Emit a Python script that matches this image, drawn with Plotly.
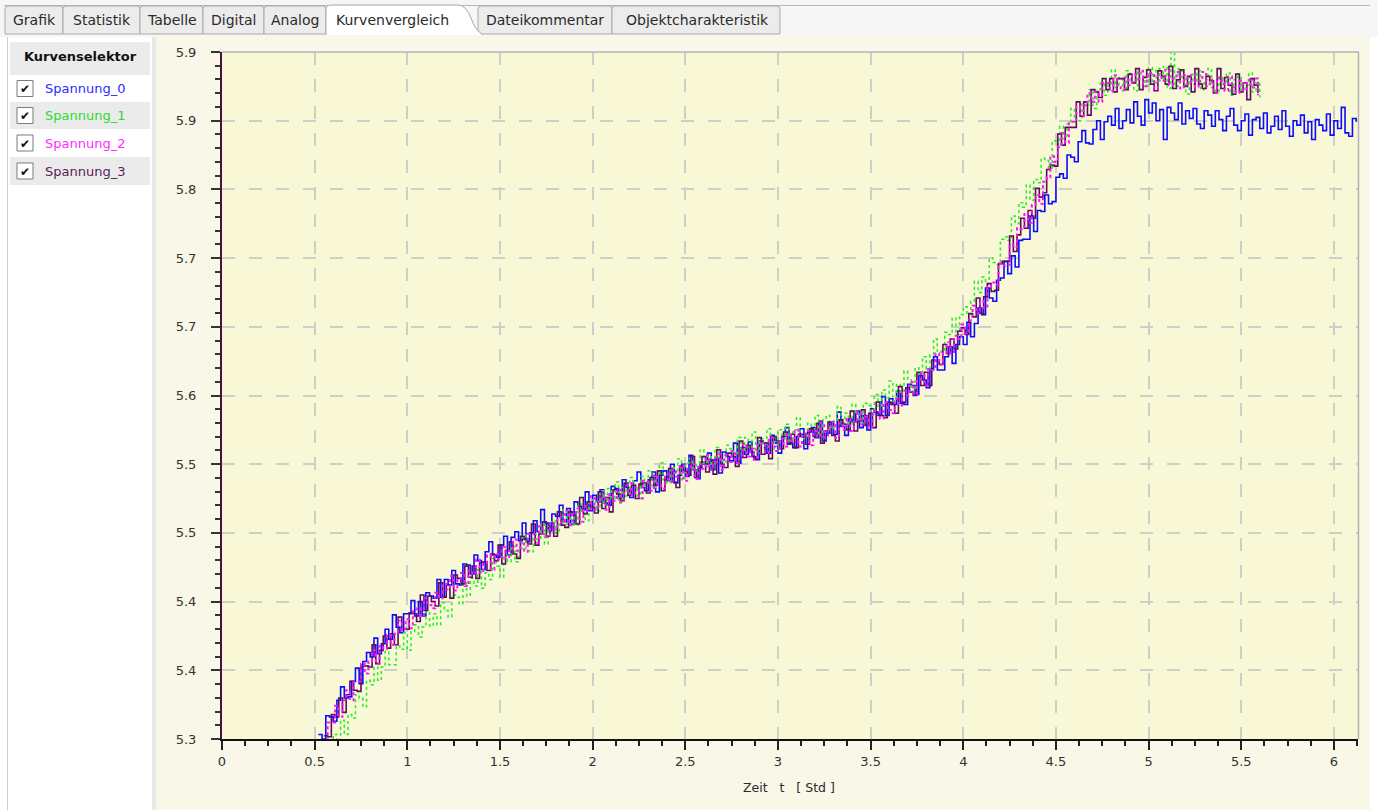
import plotly.graph_objects as go

# ---------------------------------------------------------------------------
# Measured voltages (V), one sample every T_STEP hours starting at *_T0
# ---------------------------------------------------------------------------
T_STEP = 0.02

SPANNUNG_0_T0 = 0.52
SPANNUNG_0 = [
    5.304, 5.300, 5.321, 5.320, 5.316, 5.335, 5.347, 5.337, 5.338, 5.352,
    5.364, 5.350, 5.370, 5.378, 5.374, 5.391, 5.377, 5.386, 5.399, 5.390,
    5.412, 5.401, 5.396, 5.413, 5.413, 5.425, 5.411, 5.424, 5.411, 5.432,
    5.429, 5.427, 5.444, 5.428, 5.444, 5.439, 5.452, 5.440, 5.439, 5.458,
    5.457, 5.449, 5.466, 5.461, 5.453, 5.469, 5.478, 5.466, 5.464, 5.475,
    5.483, 5.466, 5.482, 5.487, 5.479, 5.495, 5.478, 5.486, 5.497, 5.487,
    5.507, 5.495, 5.488, 5.503, 5.501, 5.511, 5.496, 5.508, 5.494, 5.514,
    5.510, 5.507, 5.523, 5.506, 5.520, 5.514, 5.525, 5.513, 5.511, 5.528,
    5.526, 5.517, 5.534, 5.527, 5.518, 5.533, 5.541, 5.527, 5.524, 5.534,
    5.541, 5.523, 5.538, 5.542, 5.533, 5.548, 5.531, 5.538, 5.548, 5.537,
    5.556, 5.543, 5.535, 5.550, 5.548, 5.558, 5.543, 5.554, 5.540, 5.559,
    5.555, 5.551, 5.567, 5.549, 5.563, 5.557, 5.568, 5.555, 5.552, 5.569,
    5.567, 5.558, 5.574, 5.567, 5.558, 5.573, 5.581, 5.567, 5.563, 5.573,
    5.580, 5.562, 5.577, 5.581, 5.572, 5.587, 5.569, 5.576, 5.586, 5.575,
    5.595, 5.582, 5.574, 5.589, 5.586, 5.596, 5.581, 5.592, 5.579, 5.598,
    5.595, 5.592, 5.609, 5.592, 5.607, 5.602, 5.614, 5.603, 5.602, 5.620,
    5.619, 5.611, 5.628, 5.624, 5.617, 5.634, 5.645, 5.633, 5.633, 5.645,
    5.654, 5.639, 5.656, 5.663, 5.656, 5.676, 5.663, 5.675, 5.689, 5.683,
    5.707, 5.698, 5.695, 5.714, 5.716, 5.731, 5.720, 5.736, 5.726, 5.750,
    5.751, 5.751, 5.772, 5.758, 5.777, 5.776, 5.791, 5.783, 5.785, 5.807,
    5.810, 5.806, 5.827, 5.825, 5.821, 5.839, 5.849, 5.838, 5.837, 5.850,
    5.858, 5.841, 5.857, 5.862, 5.854, 5.869, 5.851, 5.858, 5.868, 5.856,
    5.875, 5.862, 5.854, 5.877, 5.865, 5.874, 5.858, 5.868, 5.841, 5.870,
    5.865, 5.859, 5.874, 5.855, 5.867, 5.860, 5.869, 5.855, 5.851, 5.867,
    5.863, 5.853, 5.867, 5.859, 5.849, 5.862, 5.869, 5.854, 5.849, 5.858,
    5.864, 5.845, 5.859, 5.861, 5.851, 5.865, 5.847, 5.853, 5.862, 5.850,
    5.867, 5.853, 5.844, 5.858, 5.854, 5.863, 5.847, 5.857, 5.841, 5.859,
    5.854, 5.849, 5.864, 5.845, 5.858, 5.851, 5.870, 5.847, 5.844, 5.860,
    5.857,
]

SPANNUNG_1_T0 = 0.58
SPANNUNG_1 = [
    5.287, 5.304, 5.298, 5.317, 5.304, 5.322, 5.319, 5.340, 5.337, 5.329,
    5.353, 5.349, 5.365, 5.353, 5.365, 5.379, 5.367, 5.367, 5.384, 5.381,
    5.396, 5.380, 5.397, 5.403, 5.392, 5.401, 5.415, 5.402, 5.413, 5.403,
    5.423, 5.416, 5.410, 5.430, 5.428, 5.422, 5.441, 5.429, 5.445, 5.438,
    5.453, 5.436, 5.450, 5.444, 5.463, 5.456, 5.446, 5.466, 5.460, 5.474,
    5.460, 5.472, 5.484, 5.470, 5.469, 5.484, 5.480, 5.494, 5.476, 5.492,
    5.497, 5.486, 5.494, 5.507, 5.493, 5.503, 5.493, 5.512, 5.504, 5.497,
    5.516, 5.514, 5.506, 5.524, 5.511, 5.526, 5.517, 5.532, 5.513, 5.527,
    5.519, 5.536, 5.529, 5.517, 5.537, 5.529, 5.542, 5.527, 5.537, 5.549,
    5.534, 5.531, 5.545, 5.540, 5.553, 5.534, 5.549, 5.553, 5.542, 5.549,
    5.561, 5.546, 5.556, 5.545, 5.563, 5.554, 5.547, 5.565, 5.562, 5.555,
    5.572, 5.558, 5.572, 5.563, 5.577, 5.558, 5.571, 5.563, 5.580, 5.572,
    5.560, 5.579, 5.571, 5.584, 5.569, 5.579, 5.590, 5.575, 5.571, 5.585,
    5.580, 5.592, 5.573, 5.588, 5.592, 5.580, 5.588, 5.600, 5.585, 5.594,
    5.584, 5.602, 5.593, 5.585, 5.603, 5.601, 5.593, 5.611, 5.600, 5.615,
    5.608, 5.623, 5.605, 5.620, 5.613, 5.632, 5.625, 5.614, 5.635, 5.629,
    5.645, 5.634, 5.647, 5.661, 5.649, 5.650, 5.667, 5.665, 5.680, 5.665,
    5.683, 5.690, 5.683, 5.695, 5.713, 5.703, 5.717, 5.711, 5.734, 5.730,
    5.728, 5.751, 5.753, 5.750, 5.772, 5.765, 5.784, 5.780, 5.800, 5.786,
    5.805, 5.802, 5.824, 5.822, 5.815, 5.840, 5.837, 5.853, 5.842, 5.855,
    5.869, 5.857, 5.858, 5.875, 5.872, 5.886, 5.869, 5.886, 5.892, 5.881,
    5.890, 5.904, 5.888, 5.897, 5.885, 5.903, 5.893, 5.885, 5.902, 5.898,
    5.890, 5.906, 5.892, 5.905, 5.894, 5.907, 5.887, 5.920, 5.889, 5.905,
    5.896, 5.882, 5.900, 5.891, 5.903, 5.886, 5.895, 5.905, 5.888, 5.884,
    5.897, 5.891, 5.901, 5.881, 5.895, 5.898, 5.885, 5.890, 5.901, 5.884,
    5.892, 5.879,
]

SPANNUNG_2_T0 = 0.55
SPANNUNG_2 = [
    5.296, 5.315, 5.315, 5.330, 5.320, 5.335, 5.344, 5.335, 5.352, 5.352,
    5.368, 5.359, 5.370, 5.380, 5.368, 5.384, 5.381, 5.394, 5.385, 5.395,
    5.407, 5.398, 5.408, 5.400, 5.417, 5.418, 5.411, 5.427, 5.421, 5.418,
    5.432, 5.427, 5.440, 5.435, 5.447, 5.434, 5.445, 5.450, 5.438, 5.452,
    5.449, 5.462, 5.450, 5.458, 5.466, 5.453, 5.467, 5.462, 5.473, 5.463,
    5.470, 5.480, 5.470, 5.478, 5.469, 5.485, 5.485, 5.477, 5.492, 5.485,
    5.482, 5.495, 5.489, 5.500, 5.495, 5.506, 5.493, 5.503, 5.508, 5.496,
    5.510, 5.506, 5.519, 5.507, 5.514, 5.521, 5.507, 5.521, 5.515, 5.525,
    5.514, 5.522, 5.531, 5.520, 5.527, 5.517, 5.533, 5.532, 5.524, 5.538,
    5.530, 5.526, 5.539, 5.532, 5.543, 5.537, 5.547, 5.533, 5.544, 5.548,
    5.535, 5.548, 5.544, 5.556, 5.543, 5.550, 5.557, 5.543, 5.556, 5.550,
    5.560, 5.549, 5.556, 5.566, 5.555, 5.562, 5.552, 5.567, 5.566, 5.558,
    5.572, 5.564, 5.560, 5.571, 5.564, 5.575, 5.569, 5.579, 5.564, 5.574,
    5.578, 5.565, 5.578, 5.573, 5.585, 5.572, 5.579, 5.586, 5.572, 5.585,
    5.579, 5.589, 5.578, 5.586, 5.595, 5.584, 5.591, 5.581, 5.596, 5.596,
    5.589, 5.604, 5.597, 5.594, 5.607, 5.601, 5.614, 5.610, 5.622, 5.611,
    5.623, 5.630, 5.619, 5.634, 5.633, 5.648, 5.638, 5.648, 5.658, 5.648,
    5.664, 5.661, 5.674, 5.666, 5.678, 5.691, 5.684, 5.695, 5.689, 5.708,
    5.712, 5.710, 5.729, 5.727, 5.728, 5.746, 5.744, 5.761, 5.760, 5.775,
    5.766, 5.782, 5.791, 5.783, 5.803, 5.807, 5.826, 5.821, 5.834, 5.847,
    5.838, 5.857, 5.857, 5.871, 5.862, 5.872, 5.883, 5.875, 5.884, 5.875,
    5.892, 5.892, 5.885, 5.899, 5.890, 5.886, 5.897, 5.890, 5.900, 5.894,
    5.903, 5.889, 5.898, 5.901, 5.887, 5.899, 5.894, 5.904, 5.890, 5.896,
    5.902, 5.887, 5.899, 5.891, 5.900, 5.888, 5.894, 5.902, 5.889, 5.895,
    5.883, 5.897, 5.894, 5.885, 5.898, 5.888, 5.883, 5.894, 5.885, 5.895,
    5.888, 5.896, 5.881,
]

SPANNUNG_3_T0 = 0.55
SPANNUNG_3 = [
    5.303, 5.302, 5.322, 5.320, 5.337, 5.324, 5.340, 5.352, 5.344, 5.343,
    5.366, 5.366, 5.365, 5.385, 5.368, 5.380, 5.393, 5.382, 5.395, 5.385,
    5.410, 5.399, 5.399, 5.414, 5.413, 5.406, 5.430, 5.416, 5.429, 5.424,
    5.420, 5.441, 5.428, 5.439, 5.427, 5.448, 5.445, 5.440, 5.456, 5.446,
    5.456, 5.445, 5.459, 5.460, 5.452, 5.467, 5.461, 5.475, 5.458, 5.470,
    5.478, 5.467, 5.463, 5.483, 5.480, 5.476, 5.494, 5.475, 5.485, 5.496,
    5.483, 5.495, 5.483, 5.505, 5.493, 5.491, 5.505, 5.502, 5.494, 5.518,
    5.503, 5.514, 5.509, 5.504, 5.523, 5.508, 5.518, 5.505, 5.525, 5.521,
    5.515, 5.531, 5.520, 5.529, 5.517, 5.530, 5.531, 5.522, 5.536, 5.529,
    5.542, 5.524, 5.536, 5.544, 5.532, 5.527, 5.546, 5.542, 5.538, 5.555,
    5.536, 5.545, 5.555, 5.541, 5.552, 5.539, 5.561, 5.548, 5.545, 5.558,
    5.555, 5.546, 5.569, 5.554, 5.565, 5.559, 5.553, 5.572, 5.557, 5.567,
    5.553, 5.573, 5.569, 5.562, 5.577, 5.566, 5.575, 5.563, 5.575, 5.575,
    5.566, 5.580, 5.573, 5.585, 5.567, 5.578, 5.586, 5.574, 5.569, 5.588,
    5.584, 5.579, 5.596, 5.578, 5.587, 5.597, 5.583, 5.594, 5.581, 5.604,
    5.592, 5.590, 5.604, 5.602, 5.594, 5.618, 5.604, 5.617, 5.613, 5.610,
    5.631, 5.619, 5.631, 5.619, 5.642, 5.641, 5.638, 5.656, 5.648, 5.661,
    5.652, 5.668, 5.671, 5.665, 5.684, 5.681, 5.698, 5.684, 5.699, 5.711,
    5.704, 5.705, 5.729, 5.731, 5.731, 5.754, 5.740, 5.755, 5.770, 5.761,
    5.777, 5.770, 5.797, 5.789, 5.793, 5.814, 5.818, 5.817, 5.846, 5.836,
    5.852, 5.852, 5.852, 5.875, 5.862, 5.875, 5.863, 5.886, 5.884, 5.879,
    5.896, 5.886, 5.896, 5.884, 5.896, 5.896, 5.886, 5.900, 5.892, 5.905,
    5.886, 5.897, 5.904, 5.891, 5.885, 5.903, 5.898, 5.891, 5.907, 5.887,
    5.895, 5.904, 5.889, 5.898, 5.884, 5.905, 5.891, 5.887, 5.898, 5.894,
    5.883, 5.905, 5.887, 5.897, 5.890, 5.882, 5.900, 5.884, 5.892, 5.877,
    5.896, 5.890, 5.883,
]

SERIES_NAMES = ["Spannung_0", "Spannung_1", "Spannung_2", "Spannung_3"]

Y_TICK_VALUES = [5.300, 5.362, 5.424, 5.486, 5.548, 5.610,
                 5.672, 5.734, 5.796, 5.858, 5.920]
Y_TICK_LABELS = ["5.3", "5.4", "5.4", "5.5", "5.5", "5.6",
                 "5.7", "5.7", "5.8", "5.9", "5.9"]
X_TICK_VALUES = [0, 0.5, 1, 1.5, 2, 2.5, 3, 3.5, 4, 4.5, 5, 5.5, 6]
X_TICK_LABELS = ["0", "0.5", "1", "1.5", "2", "2.5", "3",
                 "3.5", "4", "4.5", "5", "5.5", "6"]

TAB_LABELS = ["Grafik", "Statistik", "Tabelle", "Digital", "Analog",
              "Kurvenvergleich", "Dateikommentar", "Objektcharakteristik"]
ACTIVE_TAB = "Kurvenvergleich"
X_TITLE = "Zeit\u00a0\u00a0\u00a0t\u00a0\u00a0\u00a0[ Std ]"
SELECTOR_TITLE = "Kurvenselektor"

# ---------------------------------------------------------------------------
# Styling
# ---------------------------------------------------------------------------
FIG_W, FIG_H = 1378, 810
PLOT_L, PLOT_R, PLOT_T, PLOT_B = 222, 1358, 52, 739
FONT = "DejaVu Sans"

LINE_STYLES = {
    "Spannung_0": dict(color="#0c0cff", width=1.6, dash="solid"),
    "Spannung_1": dict(color="#1ef01e", width=1.5, dash="dot"),
    "Spannung_2": dict(color="#ff10ff", width=2.0, dash="dot"),
    "Spannung_3": dict(color="#5c0f5c", width=1.6, dash="solid"),
}
LABEL_COLORS = {
    "Spannung_0": "#2b2bff",
    "Spannung_1": "#2bdc2b",
    "Spannung_2": "#ff2bff",
    "Spannung_3": "#5a2058",
}
DRAW_ORDER = ["Spannung_0", "Spannung_1", "Spannung_3", "Spannung_2"]


def px(x):
    return (x - PLOT_L) / (PLOT_R - PLOT_L)


def py(y):
    return (PLOT_B - y) / (PLOT_B - PLOT_T)


def rect(x0, y0, x1, y1, fill, line=None, lw=1, layer="below"):
    return dict(type="rect", xref="paper", yref="paper",
                x0=px(x0), x1=px(x1), y0=py(y1), y1=py(y0),
                fillcolor=fill, layer=layer,
                line=dict(color=line or fill, width=lw if line else 0))


def hline(x0, x1, y, color, w=1, layer="above"):
    return dict(type="line", xref="paper", yref="paper",
                x0=px(x0), x1=px(x1), y0=py(y), y1=py(y),
                line=dict(color=color, width=w), layer=layer)


def vline(x, y0, y1, color, w=1, layer="above"):
    return dict(type="line", xref="paper", yref="paper",
                x0=px(x), x1=px(x), y0=py(y0), y1=py(y1),
                line=dict(color=color, width=w), layer=layer)


def path(points, fill, line, lw=1):
    cmds = []
    for i, p in enumerate(points):
        if p[0] == "Q":
            _, cx, cy, ex, ey = p
            cmds.append(f"Q {px(cx):.5f},{py(cy):.5f} {px(ex):.5f},{py(ey):.5f}")
        else:
            cmds.append(("M " if i == 0 else "L ") + f"{px(p[0]):.5f},{py(p[1]):.5f}")
    return dict(type="path", xref="paper", yref="paper", path=" ".join(cmds) + " Z",
                fillcolor=fill, line=dict(color=line, width=lw), layer="below")


def text(x, y, s, size=13, color="#222", anchor="left", bold=False):
    return dict(xref="paper", yref="paper", x=px(x), y=py(y),
                text=f"<b>{s}</b>" if bold else s,
                showarrow=False, xanchor=anchor, yanchor="middle",
                font=dict(family=FONT, size=size, color=color))


series = {
    "Spannung_0": (SPANNUNG_0_T0, SPANNUNG_0),
    "Spannung_1": (SPANNUNG_1_T0, SPANNUNG_1),
    "Spannung_2": (SPANNUNG_2_T0, SPANNUNG_2),
    "Spannung_3": (SPANNUNG_3_T0, SPANNUNG_3),
}

fig = go.Figure()
for name in DRAW_ORDER:
    t0, vals = series[name]
    times = [round(t0 + i * T_STEP, 4) for i in range(len(vals))]
    fig.add_trace(go.Scatter(
        x=times, y=vals, name=name, mode="lines",
        line=dict(shape="hv", **LINE_STYLES[name]),
        showlegend=False, hoverinfo="x+y+name",
    ))

# ---------------------------------------------------------------------------
# Window chrome: tab bar, curve selector, panel backgrounds
# ---------------------------------------------------------------------------
shapes = [
    rect(0, 0, FIG_W, 37, "#f6f6f6"),
    rect(0, 37, 152, FIG_H, "#ffffff"),
    rect(152, 37, 156, FIG_H, "#e8e8e8"),
    rect(1370, 37, FIG_W, FIG_H, "#ffffff"),
    vline(7.5, 37, FIG_H, "#cfcfcf", 1, "below"),
    hline(4, 1370, 5.5, "#b8b8b8", 1, "below"),
]

tab_edges = [5, 63, 140, 203, 264, 326, 478, 612, 780]
tab_centers = [34, 102, 172, 233, 295, 392, 545, 697]
for i, label in enumerate(TAB_LABELS):
    x0, x1 = tab_edges[i], tab_edges[i + 1]
    if label == ACTIVE_TAB:
        continue
    shapes.append(path([(x0, 34), (x0, 9), ("Q", x0, 6, x0 + 3, 6),
                        (x1 - 3, 6), ("Q", x1, 6, x1, 9), (x1, 34)],
                       "#ececec", "#a9a9a9"))
# active tab drawn last so its sloped edge overlaps the neighbour
ia = TAB_LABELS.index(ACTIVE_TAB)
a0, a1 = tab_edges[ia], tab_edges[ia + 1]
shapes.append(path([(a0, 36), (a0, 10), ("Q", a0, 5, a0 + 5, 5),
                    (a1 - 20, 5), ("Q", a1 - 12, 5, a1 - 7, 18),
                    ("Q", a1 - 3, 30, a1 + 4, 34), (a1 + 4, 36)],
                   "#ffffff", "#a9a9a9"))
shapes.append(hline(0, FIG_W, 36, "#f6f6f6", 2, "below"))

# curve selector panel
shapes.append(rect(10, 42, 150, 75, "#ebebeb"))
row_tops = [75, 102, 129, 157, 185]
for i in range(len(SERIES_NAMES)):
    shapes.append(rect(10, row_tops[i], 150, row_tops[i + 1],
                       "#ffffff" if i % 2 == 0 else "#ebebeb"))
    cy = (row_tops[i] + row_tops[i + 1]) / 2
    shapes.append(rect(17, cy - 8, 33, cy + 8, "#ffffff", "#7b7b7b", 1))

# frame of the plotting area
shapes.append(hline(PLOT_L, PLOT_R + 1, PLOT_T, "#b4b4b4", 1.5))
shapes.append(vline(PLOT_R + 0.5, PLOT_T, PLOT_B, "#b4b4b4", 1.5))

annotations = []
for label, cx in zip(TAB_LABELS, tab_centers):
    annotations.append(text(cx, 20, label, 14, "#2a2a2a", "center"))
annotations.append(text(80, 57, SELECTOR_TITLE, 13, "#111", "center", bold=True))
for i, name in enumerate(SERIES_NAMES):
    cy = (row_tops[i] + row_tops[i + 1]) / 2
    annotations.append(text(25, cy + 0.5, "\u2714", 12, "#111", "center"))
    annotations.append(text(43, cy, name, 13, LABEL_COLORS[name]))
annotations.append(text(789, 787, X_TITLE, 12.5, "#2a2a2a", "center"))

grid = dict(showgrid=True, gridcolor="#cfcfc8", gridwidth=1.5, griddash="13px,14px")

fig.update_layout(
    width=FIG_W, height=FIG_H, autosize=False,
    margin=dict(l=PLOT_L, r=FIG_W - PLOT_R, t=PLOT_T, b=FIG_H - PLOT_B, pad=0),
    paper_bgcolor="#f8f7e8",
    plot_bgcolor="#f8f7d6",
    font=dict(family=FONT, size=13, color="#333"),
    shapes=shapes,
    annotations=annotations,
    xaxis=dict(
        range=[0, 6.13], tickmode="array", tickvals=X_TICK_VALUES, ticktext=X_TICK_LABELS,
        showline=True, linecolor="#111", linewidth=2, zeroline=False,
        ticks="outside", ticklen=9, tickwidth=2, tickcolor="#222",
        minor=dict(tickmode="linear", tick0=0, dtick=0.125, ticks="outside",
                   ticklen=5, tickwidth=1.5, tickcolor="#222", showgrid=False),
        tickfont=dict(family=FONT, size=13, color="#333"),
        **grid,
    ),
    yaxis=dict(
        range=[5.3, 5.92], tickmode="array", tickvals=Y_TICK_VALUES, ticktext=Y_TICK_LABELS,
        showline=True, linecolor="#4a1046", linewidth=2, zeroline=False,
        ticks="outside", ticklen=9, tickwidth=2, tickcolor="#333",
        ticklabelstandoff=12,
        minor=dict(tickmode="linear", tick0=5.3, dtick=0.0124, ticks="outside",
                   ticklen=5, tickwidth=1.5, tickcolor="#333", showgrid=False),
        tickfont=dict(family=FONT, size=13, color="#333"),
        **grid,
    ),
)

fig.write_html("out.html")
